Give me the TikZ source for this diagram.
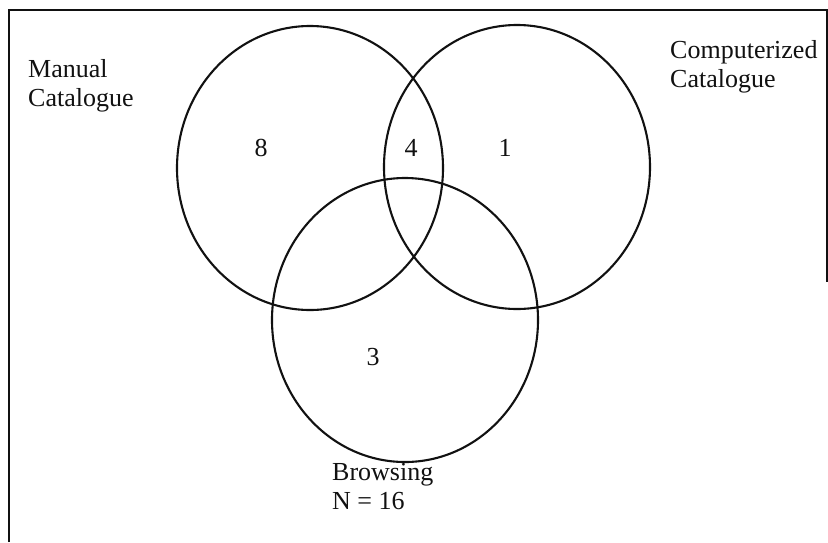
\documentclass[tikz,border=0pt]{standalone}
\usepackage{fontspec}
\setmainfont{Liberation Serif}
\usepackage{xcolor}
\usetikzlibrary{shapes.geometric}
\definecolor{vink}{HTML}{111111}

\begin{document}
\begin{tikzpicture}[x=1pt,y=-1pt,font=\fontsize{26}{29}\selectfont,
  setring/.style={draw=vink,ellipse,line width=2.1pt,inner sep=0pt,
    minimum width=266pt,minimum height=284pt},
  setlab/.style={anchor=west,align=left,inner sep=0pt,text=vink}]
  \useasboundingbox (0,0) rectangle (828,542);

  % frame
  \draw[vink,line width=1.6pt] (9,542) -- (9,10) -- (827,10) -- (827,282);

  % rings
  \node[setring] (manual) at (310,168) {};
  \node[setring] (comput) at (517,167) {};
  \node[setring] (browse) at (405,320) {};

  % set names
  \node[setlab] (manlab) at (28,86) {Manual\\Catalogue};
  \node[setlab] (comlab) at (670,67) {Computerized\\Catalogue};
  \node[setlab] (brolab) at (332,487) {Browsing\\N = 16};

  % counts: {x}/{y}/{name}/{value}
  \foreach \x/\y/\nm/\v in {261/148/nman/8, 411/148/nmc/4, 505/148/ncom/1, 373/357/nbro/3}{
    \node[text=vink,inner sep=0pt] (\nm) at (\x,\y) {\v};
  }
\end{tikzpicture}
\end{document}
